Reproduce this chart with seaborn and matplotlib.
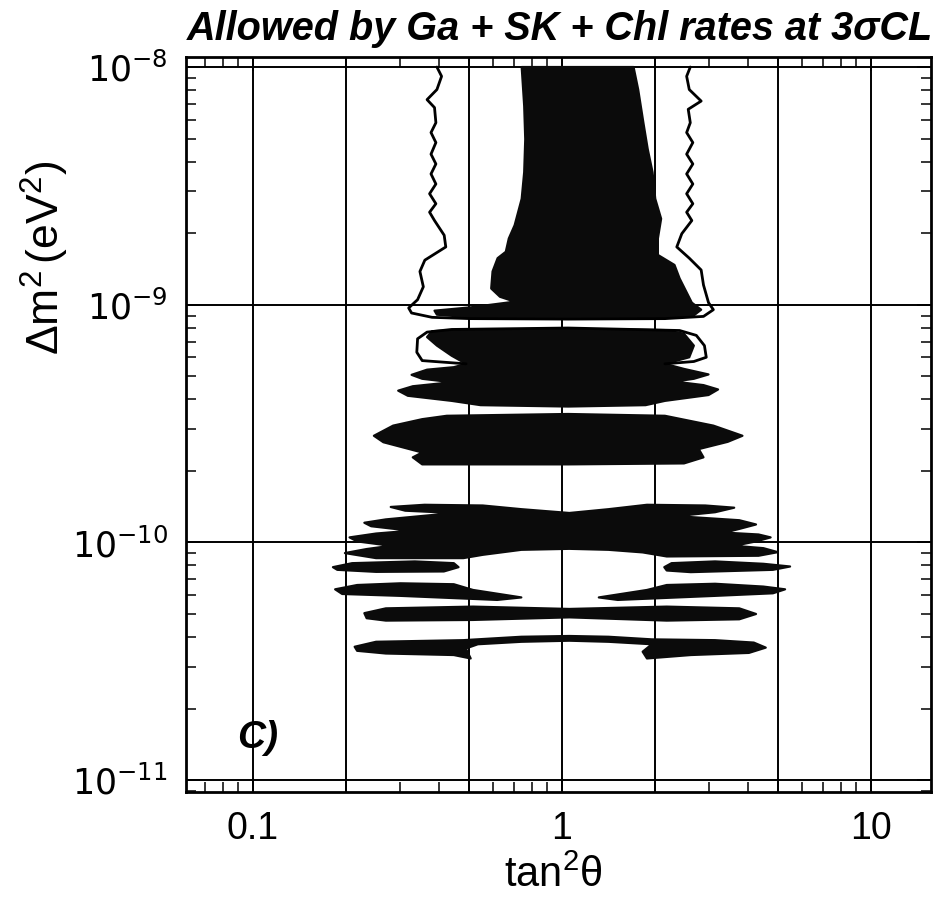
import numpy as np
import matplotlib
matplotlib.use("Agg")
import matplotlib.pyplot as plt
import seaborn as sns
from matplotlib.ticker import FixedLocator, LogLocator, NullFormatter

# ---------------- data (tan^2 theta, Delta m^2 [eV^2]) ----------------
# large allowed region above 1e-9 (filled)
A_tan2 = [0.743, 0.757, 0.763, 0.757, 0.743, 0.705, 0.675, 0.660, 0.621, 0.598, 0.592,
          0.632, 0.705, 0.508, 0.388, 0.395, 0.508, 1.05, 2.16, 2.68, 2.83, 2.64, 2.41,
          2.32, 2.05, 2.05, 2.10, 2.01, 1.97, 1.90, 1.84, 1.77, 1.71]
A_dm2 = [1.0e-8, 6.86e-9, 4.97e-9, 3.61e-9, 2.79e-9, 2.16e-9, 1.90e-9, 1.67e-9, 1.57e-9,
         1.38e-9, 1.17e-9, 1.08e-9, 1.03e-9, 9.75e-10, 9.44e-10, 9.08e-10, 8.85e-10,
         8.74e-10, 8.85e-10, 9.02e-10, 9.53e-10, 1.02e-9, 1.29e-9, 1.47e-9, 1.62e-9,
         1.90e-9, 2.30e-9, 2.79e-9, 3.61e-9, 4.52e-9, 5.83e-9, 8.04e-9, 1.0e-8]

# outer contour line around the large region
A_line_tan2 = [0.395, 0.409, 0.395, 0.367, 0.388, 0.392, 0.378, 0.392, 0.378, 0.392,
               0.378, 0.392, 0.374, 0.392, 0.374, 0.388, 0.417, 0.422, 0.361, 0.348,
               0.357, 0.342, 0.320, 0.327, 0.381, 0.508, 1.05, 2.16, 2.88, 3.10,
               2.99, 2.88, 2.83, 2.59, 2.36, 2.45, 2.64, 2.54, 2.66, 2.54,
               2.66, 2.54, 2.66, 2.54, 2.66, 2.54, 2.61, 2.57, 2.83, 2.59,
               2.54, 2.61]
A_line_dm2 = [1.0e-8, 9.14e-9, 8.04e-9, 7.29e-9, 6.75e-9, 5.83e-9, 5.30e-9, 4.81e-9,
              4.30e-9, 3.91e-9, 3.55e-9, 3.22e-9, 2.93e-9, 2.66e-9, 2.45e-9, 2.26e-9,
              1.96e-9, 1.75e-9, 1.54e-9, 1.38e-9, 1.19e-9, 1.05e-9, 9.69e-10, 9.23e-10,
              8.85e-10, 8.74e-10, 8.70e-10, 8.74e-10, 8.93e-10, 9.53e-10, 1.02e-9,
              1.21e-9, 1.40e-9, 1.57e-9, 1.75e-9, 1.99e-9, 2.26e-9, 2.45e-9, 2.66e-9,
              2.93e-9, 3.22e-9, 3.55e-9, 3.91e-9, 4.30e-9, 4.81e-9, 5.30e-9, 5.83e-9,
              6.64e-9, 7.19e-9, 8.04e-9, 9.14e-9, 1.0e-8]

# island around 4e-10 - 8e-10
B_tan2 = [0.381, 0.508, 1.05, 2.16, 2.49, 2.68, 2.59, 2.16, 2.49, 2.99, 2.68, 2.32,
          2.88, 3.21, 2.99, 2.16, 1.87, 1.05, 0.547, 0.441, 0.318, 0.296, 0.330,
          0.441, 0.354, 0.327, 0.367, 0.448, 0.491, 0.441, 0.395, 0.367]
B_dm2 = [7.74e-10, 7.87e-10, 7.92e-10, 7.82e-10, 7.55e-10, 6.73e-10, 6.01e-10, 5.64e-10,
         5.37e-10, 5.09e-10, 4.88e-10, 4.75e-10, 4.59e-10, 4.40e-10, 4.17e-10, 3.94e-10,
         3.78e-10, 3.73e-10, 3.78e-10, 3.94e-10, 4.14e-10, 4.35e-10, 4.54e-10, 4.72e-10,
         4.88e-10, 5.07e-10, 5.33e-10, 5.46e-10, 5.64e-10, 6.10e-10, 6.73e-10, 7.31e-10]
B_line_tan2 = [0.491, 0.354, 0.340, 0.342, 0.367, 0.441, 1.05, 2.41, 2.73, 2.90, 2.94,
               2.68, 2.16]
B_line_dm2 = [5.64e-10, 5.82e-10, 6.31e-10, 7.19e-10, 7.67e-10, 7.87e-10, 7.98e-10,
              7.79e-10, 7.43e-10, 6.73e-10, 6.01e-10, 5.77e-10, 5.64e-10]

# island around 3e-10
C_tan2 = [0.247, 0.285, 0.354, 0.425, 1.05, 2.16, 3.10, 3.85, 3.45, 2.78, 2.88, 2.49,
          1.05, 0.354, 0.330, 0.354, 0.265]
C_dm2 = [2.81e-10, 3.10e-10, 3.30e-10, 3.41e-10, 3.47e-10, 3.41e-10, 3.10e-10, 2.81e-10,
         2.65e-10, 2.47e-10, 2.28e-10, 2.15e-10, 2.13e-10, 2.13e-10, 2.28e-10, 2.39e-10,
         2.64e-10]

# island around 1e-10
D_tan2 = [0.280, 0.360, 0.556, 0.741, 1.06, 1.42, 1.89, 2.92, 3.62, 3.14, 2.35, 3.76,
          4.26, 3.76, 3.37, 4.34, 4.75, 4.26, 3.62, 4.50, 5.01, 4.34, 2.19, 1.83, 1.42,
          1.06, 0.741, 0.556, 0.481, 0.251, 0.199, 0.234, 0.280, 0.218, 0.206, 0.251,
          0.324, 0.242, 0.230, 0.270, 0.448, 0.312]
D_dm2 = [1.41e-10, 1.44e-10, 1.43e-10, 1.38e-10, 1.33e-10, 1.38e-10, 1.44e-10, 1.43e-10,
         1.40e-10, 1.34e-10, 1.29e-10, 1.24e-10, 1.19e-10, 1.14e-10, 1.10e-10, 1.08e-10,
         1.05e-10, 1.01e-10, 9.68e-11, 9.46e-11, 9.10e-11, 8.79e-11, 8.73e-11, 9.08e-11,
         9.31e-11, 9.40e-11, 9.31e-11, 8.87e-11, 8.59e-11, 8.59e-11, 9.02e-11, 9.38e-11,
         9.68e-11, 1.01e-10, 1.05e-10, 1.09e-10, 1.12e-10, 1.17e-10, 1.21e-10, 1.25e-10,
         1.33e-10, 1.36e-10]

# pair of islands around 8e-11
E_left_tan2 = [0.182, 0.210, 0.335, 0.448, 0.464, 0.416, 0.251, 0.188]
E_left_dm2 = [7.87e-11, 8.18e-11, 8.32e-11, 8.18e-11, 7.87e-11, 7.55e-11, 7.52e-11, 7.67e-11]
E_right_tan2 = [2.15, 2.27, 3.14, 4.50, 5.49, 4.83, 2.62, 2.19]
E_right_dm2 = [7.87e-11, 8.18e-11, 8.32e-11, 8.13e-11, 7.92e-11, 7.67e-11, 7.50e-11, 7.62e-11]

# pair of islands around 6.3e-11
F_left_tan2 = [0.185, 0.218, 0.301, 0.448, 0.517, 0.741, 0.619, 0.301, 0.195]
F_left_dm2 = [6.35e-11, 6.62e-11, 6.73e-11, 6.67e-11, 6.31e-11, 5.87e-11, 5.73e-11,
              5.96e-11, 6.07e-11]
F_right_tan2 = [1.32, 1.89, 2.19, 3.14, 4.50, 5.29, 4.83, 3.14, 1.52]
F_right_dm2 = [5.87e-11, 6.31e-11, 6.62e-11, 6.70e-11, 6.52e-11, 6.35e-11, 6.11e-11,
               5.96e-11, 5.73e-11]

# band around 5e-11
G_tan2 = [0.230, 0.270, 0.517, 1.06, 2.19, 3.76, 4.26, 3.76, 2.19, 1.06, 0.517, 0.270, 0.234]
G_dm2 = [5.04e-11, 5.28e-11, 5.37e-11, 5.25e-11, 5.37e-11, 5.28e-11, 5.00e-11, 4.75e-11,
         4.69e-11, 4.84e-11, 4.72e-11, 4.69e-11, 4.80e-11]

# arch-shaped band around 3.6e-11
H_tan2 = [0.214, 0.251, 0.481, 0.741, 1.06, 1.42, 1.96, 3.14, 4.19, 4.58, 4.04, 2.62,
          1.89, 1.83, 1.96, 1.42, 1.06, 0.741, 0.536, 0.490, 0.508, 0.448, 0.270, 0.218]
H_dm2 = [3.64e-11, 3.82e-11, 3.88e-11, 4.01e-11, 4.04e-11, 4.01e-11, 3.91e-11, 3.88e-11,
         3.79e-11, 3.61e-11, 3.43e-11, 3.36e-11, 3.25e-11, 3.47e-11, 3.73e-11, 3.82e-11,
         3.86e-11, 3.82e-11, 3.73e-11, 3.58e-11, 3.25e-11, 3.36e-11, 3.41e-11, 3.50e-11]

grid_x = [0.1, 0.2, 0.5, 1, 2, 5, 10]
grid_y = [1e-11, 1e-10, 1e-9, 1e-8]
xtick_vals = [0.1, 1, 10]
xtick_labels = ["0.1", "1", "10"]
ytick_vals = [1e-11, 1e-10, 1e-9, 1e-8]
ytick_labels = [r"$\mathregular{10^{-11}}$", r"$\mathregular{10^{-10}}$",
                r"$\mathregular{10^{-9}}$", r"$\mathregular{10^{-8}}$"]

title_text = "Allowed by Ga + SK + Chl rates at 3\u03c3CL"
xlabel_text = r"$\mathregular{tan^{2}\theta}$"
ylabel_text = r"$\mathregular{\Delta m^{2}\,(eV^{2})}$"
panel_text = "C)"

# ---------------- style ----------------
sns.set_theme(style="ticks")
plt.rcParams["font.family"] = ["Liberation Sans", "DejaVu Sans"]
plt.rcParams["mathtext.fontset"] = "custom"
plt.rcParams["mathtext.rm"] = "Liberation Sans"
plt.rcParams["mathtext.it"] = "Liberation Sans:italic"
plt.rcParams["mathtext.bf"] = "Liberation Sans:bold"
plt.rcParams["text.color"] = "black"
plt.rcParams["axes.labelcolor"] = "black"
plt.rcParams["xtick.color"] = "black"
plt.rcParams["ytick.color"] = "black"
plt.rcParams["axes.edgecolor"] = "black"

fig = plt.figure(figsize=(9.4, 9.11), dpi=100)
ax = fig.add_axes([0.1979, 0.1306, 0.7926, 0.8068])
ax.set_xscale("log")
ax.set_yscale("log")
ax.set_xlim(0.0609, 15.7)
ax.set_ylim(10 ** -11.05, 10 ** -7.958)

ink = "#0b0b0b"
for gx in grid_x:
    ax.axvline(gx, color="black", lw=1.4, zorder=1)
for gy in grid_y:
    ax.axhline(gy, color="black", lw=1.4, zorder=1)

fills = [(A_tan2, A_dm2), (B_tan2, B_dm2), (C_tan2, C_dm2), (D_tan2, D_dm2),
         (E_left_tan2, E_left_dm2), (E_right_tan2, E_right_dm2),
         (F_left_tan2, F_left_dm2), (F_right_tan2, F_right_dm2),
         (G_tan2, G_dm2), (H_tan2, H_dm2)]
for xs, ys in fills:
    ax.fill(xs, ys, color=ink, lw=1.6, ec=ink, joinstyle="round", zorder=3)

for xs, ys in [(A_line_tan2, A_line_dm2), (B_line_tan2, B_line_dm2)]:
    sns.lineplot(x=xs, y=ys, sort=False, estimator=None, color="black",
                 lw=2.0, ax=ax, zorder=4)

# ticks
ax.xaxis.set_major_locator(FixedLocator(xtick_vals))
ax.set_xticklabels(xtick_labels)
ax.xaxis.set_minor_locator(LogLocator(base=10, subs=np.arange(2, 10)))
ax.xaxis.set_minor_formatter(NullFormatter())
ax.yaxis.set_major_locator(FixedLocator(ytick_vals))
ax.set_yticklabels(ytick_labels)
ax.yaxis.set_minor_locator(LogLocator(base=10, subs=np.arange(2, 10)))
ax.yaxis.set_minor_formatter(NullFormatter())
ax.tick_params(which="both", direction="in", top=True, right=True, color="black")
ax.tick_params(which="major", length=10, width=1.3)
ax.tick_params(which="minor", length=7, width=1.1)
ax.tick_params(axis="x", which="major", labelsize=27, pad=14, labelcolor="black")
ax.tick_params(axis="y", which="major", labelsize=25, pad=13, labelcolor="black")
for lab in ax.get_yticklabels():
    lab.set_family(["DejaVu Sans"])
for sp in ax.spines.values():
    sp.set_linewidth(2.0)
    sp.set_color("black")

fig.text(553 / 940, 1 - 876 / 911, xlabel_text, fontsize=30, ha="center", va="center",
         color="black")
fig.text(45 / 940, 1 - 258 / 911, ylabel_text, fontsize=32, ha="center", va="center",
         rotation=90, color="black")
fig.text(933 / 940, 1 - 40 / 911, title_text, fontsize=28.5, fontweight="bold",
         fontstyle="italic", ha="right", va="baseline", color="black")
ax.text(0.089, 1.5e-11, panel_text, fontsize=28, fontweight="bold", fontstyle="italic",
        ha="left", va="center", zorder=5, color="black")

fig.savefig("out.png", dpi=100, facecolor="white")
